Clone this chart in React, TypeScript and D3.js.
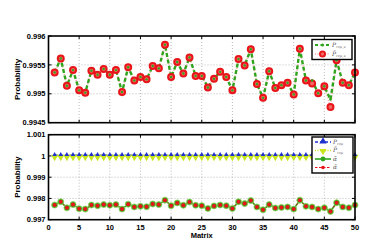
import * as d3 from "d3";

const matrices = d3.range(1, 51);

const pRepS = [
  0.99537, 0.99561, 0.99514, 0.99541, 0.99506, 0.99502, 0.9954, 0.99533, 0.99543, 0.99533,
  0.99541, 0.99503, 0.99546, 0.99523, 0.99529, 0.99525, 0.99548, 0.99544, 0.99585, 0.99529,
  0.99555, 0.99535, 0.99563, 0.99531, 0.99531, 0.99511, 0.99526, 0.99538, 0.99529, 0.99506,
  0.9956, 0.99549, 0.99577, 0.99517, 0.99493, 0.99539, 0.9951, 0.99515, 0.99519, 0.99499,
  0.99578, 0.99523, 0.99523, 0.99501, 0.99513, 0.9949, 0.99558, 0.99519, 0.99515, 0.99537,
];
const pRepSTilde = [
  0.99537, 0.99561, 0.99514, 0.99541, 0.99506, 0.99502, 0.9954, 0.99533, 0.99543, 0.99533,
  0.99541, 0.99503, 0.99546, 0.99523, 0.99529, 0.99525, 0.99548, 0.99544, 0.99585, 0.99529,
  0.99555, 0.99535, 0.99563, 0.99531, 0.99531, 0.99511, 0.99526, 0.99538, 0.99529, 0.99506,
  0.9956, 0.99549, 0.99577, 0.99517, 0.99493, 0.99539, 0.9951, 0.99515, 0.99519, 0.99499,
  0.99578, 0.99523, 0.99518, 0.99501, 0.99513, 0.99477, 0.99558, 0.99519, 0.99515, 0.99537,
];

const pRep = [
  1.00004, 1.00004, 1.00004, 1.00004, 1.00004, 1.00004, 1.00004, 1.00004, 1.00004, 1.00004,
  1.00004, 1.00004, 1.00004, 1.00004, 1.00004, 1.00004, 1.00004, 1.00004, 1.00004, 1.00004,
  1.00004, 1.00004, 1.00004, 1.00004, 1.00004, 1.00004, 1.00004, 1.00004, 1.00004, 1.00004,
  1.00004, 1.00004, 1.00004, 1.00004, 1.00004, 1.00004, 1.00004, 1.00004, 1.00004, 1.00004,
  1.00004, 1.00004, 1.00004, 1.00004, 1.00004, 1.00004, 1.00004, 1.00004, 1.00004, 1.00004,
];
const pRepTilde = [
  1, 1, 1, 1, 1, 1, 1, 1, 1, 1,
  1, 1, 1, 1, 1, 1, 1, 1, 1, 1,
  1, 1, 1, 1, 1, 1, 1, 1, 1, 1,
  1, 1, 1, 1, 1, 1, 1, 1, 1, 1,
  1, 1, 1, 1, 1, 1, 1, 1, 1, 1,
];
const alphaBar = [
  0.99769, 0.99784, 0.99756, 0.99771, 0.99752, 0.9975, 0.99769, 0.99766, 0.99771, 0.99768,
  0.99771, 0.9975, 0.99773, 0.9976, 0.99763, 0.99761, 0.99774, 0.99771, 0.99792, 0.99766,
  0.99779, 0.99768, 0.99783, 0.99768, 0.99766, 0.99753, 0.99765, 0.99769, 0.99766, 0.99753,
  0.99784, 0.99776, 0.9979, 0.9976, 0.99747, 0.99771, 0.99755, 0.99758, 0.9976, 0.9975,
  0.99792, 0.99763, 0.9976, 0.9975, 0.99756, 0.99739, 0.9978, 0.9976, 0.99756, 0.99769,
];
const alphaTilde = [
  0.99769, 0.99784, 0.99756, 0.99771, 0.99752, 0.9975, 0.99769, 0.99766, 0.99771, 0.99768,
  0.99771, 0.9975, 0.99773, 0.9976, 0.99763, 0.99761, 0.99774, 0.99771, 0.99792, 0.99766,
  0.99779, 0.99768, 0.99783, 0.99768, 0.99766, 0.99753, 0.99765, 0.99769, 0.99766, 0.99753,
  0.99784, 0.99776, 0.9979, 0.9976, 0.99747, 0.99771, 0.99755, 0.99758, 0.9976, 0.9975,
  0.99792, 0.99763, 0.9976, 0.9975, 0.99756, 0.99739, 0.9978, 0.9976, 0.99756, 0.99769,
];

const xTicks = [0, 5, 10, 15, 20, 25, 30, 35, 40, 45, 50];
const topTicks = [0.9945, 0.995, 0.9955, 0.996];
const topTickLabels = ["0.9945", "0.995", "0.9955", "0.996"];
const botTicks = [0.997, 0.998, 0.999, 1, 1.001];
const botTickLabels = ["0.997", "0.998", "0.999", "1", "1.001"];

const GREEN = "#2fa51e";
const RED = "#e8141a";
const BLUE = "#1f2fd0";
const YELLOW = "#c8e61e";
const FONT = "'Liberation Sans', Arial, sans-serif";

const x = d3.scaleLinear().domain([0, 50]).range([48.5, 355]);
const yTop = d3.scaleLinear().domain([0.9945, 0.996]).range([122.7, 36]);
const yBot = d3.scaleLinear().domain([0.997, 1.001]).range([219.7, 134.7]);

function Frame({ y, ticks, labels }: { y: d3.ScaleLinear<number, number>; ticks: number[]; labels: string[] }) {
  const [y0, y1] = y.range();
  const [x0, x1] = x.range();
  return (
    <g>
      {xTicks.slice(1, -1).map((t) => (
        <line key={"gx" + t} x1={x(t)} x2={x(t)} y1={y1} y2={y0} stroke="#aaa" strokeWidth={0.8} strokeDasharray="1,2" />
      ))}
      {ticks.slice(1, -1).map((t) => (
        <line key={"gy" + t} x1={x0} x2={x1} y1={y(t)} y2={y(t)} stroke="#aaa" strokeWidth={0.8} strokeDasharray="1,2" />
      ))}
      {xTicks.map((t) => (
        <g key={"tx" + t}>
          <line x1={x(t)} x2={x(t)} y1={y0} y2={y0 - 3} stroke="#000" strokeWidth={1} />
          <line x1={x(t)} x2={x(t)} y1={y1} y2={y1 + 3} stroke="#000" strokeWidth={1} />
        </g>
      ))}
      {ticks.map((t, i) => (
        <g key={"ty" + t}>
          <line x1={x0} x2={x0 + 3} y1={y(t)} y2={y(t)} stroke="#000" strokeWidth={1} />
          <line x1={x1} x2={x1 - 3} y1={y(t)} y2={y(t)} stroke="#000" strokeWidth={1} />
          <text x={x0 - 3} y={y(t)} dy="0.35em" textAnchor="end" fontSize={7.5} fontWeight="bold" fontFamily={FONT}>
            {labels[i]}
          </text>
        </g>
      ))}
      <text
        transform={`translate(${20},${(y0 + y1) / 2}) rotate(-90)`}
        textAnchor="middle"
        fontSize={8}
        fontWeight="bold"
        fontFamily={FONT}
      >
        Probability
      </text>
    </g>
  );
}

function Border({ y }: { y: d3.ScaleLinear<number, number> }) {
  const [y0, y1] = y.range();
  const [x0, x1] = x.range();
  return <rect x={x0} y={y1} width={x1 - x0} height={y0 - y1} fill="none" stroke="#000" strokeWidth={1.6} />;
}

// legend label: italic symbol with a small subscript
function Label({ x: lx, y: ly, base, sub }: { x: number; y: number; base: string; sub?: string }) {
  return (
    <text x={lx} y={ly} dy="0.3em" fontSize={6} fontStyle="italic" fontFamily="'DejaVu Serif', serif" fill="#555">
      {base}
      {sub && (
        <tspan fontSize={3.5} dy="1.2">
          {sub}
        </tspan>
      )}
    </text>
  );
}

const tri = d3.symbol().type(d3.symbolTriangle).size(9);

export default function App() {
  const lineTop = (vals: number[]) => d3.line<number>().x((_, i) => x(matrices[i])).y((v) => yTop(v))(vals) ?? undefined;
  const lineBot = (vals: number[]) => d3.line<number>().x((_, i) => x(matrices[i])).y((v) => yBot(v))(vals) ?? undefined;

  return (
    <svg width={374} height={245} style={{ position: "absolute", left: 0, top: 0, background: "#fff" }}>
      <rect width={374} height={245} fill="#fff" />
      {/* Top panel */}
      <Frame y={yTop} ticks={topTicks} labels={topTickLabels} />
      <path d={lineTop(pRepSTilde)} fill="none" stroke="#f6a8a8" strokeWidth={1.6} strokeDasharray="1,1.6" />
      <path d={lineTop(pRepS)} fill="none" stroke={GREEN} strokeWidth={2.4} strokeDasharray="4,2.5" />
      {pRepSTilde.map((v, i) => (
        <circle key={"rt" + i} cx={x(matrices[i])} cy={yTop(v)} r={3} fill="#ee6a60" stroke={RED} strokeWidth={2} />
      ))}
      {pRepS.map((v, i) => (
        <circle key={"gt" + i} cx={x(matrices[i])} cy={yTop(v)} r={1.2} fill={GREEN} />
      ))}
      <Border y={yTop} />
      {/* Top legend */}
      <g>
        <rect x={312} y={39.5} width={40} height={20} fill="#fff" stroke="#000" strokeWidth={1.4} />
        <line x1={315} x2={330} y1={45} y2={45} stroke={GREEN} strokeWidth={2} strokeDasharray="3,2.5" />
        <circle cx={322.5} cy={45} r={1.6} fill={GREEN} />
        <Label x={332} y={45} base="P" sub="rep_s" />
        <line x1={315} x2={330} y1={54} y2={54} stroke="#f6a8a8" strokeWidth={1.6} strokeDasharray="1,1.5" />
        <circle cx={322.5} cy={54} r={2.6} fill="#ee6a60" stroke={RED} strokeWidth={1.8} />
        <Label x={332} y={54} base={"P\u0303"} sub="rep_s" />
      </g>

      {/* Bottom panel */}
      <Frame y={yBot} ticks={botTicks} labels={botTickLabels} />
      <path d={lineBot(pRepTilde)} fill="none" stroke={YELLOW} strokeWidth={1.6} strokeDasharray="1,1.5" />
      <path d={lineBot(pRep)} fill="none" stroke={BLUE} strokeWidth={1.2} strokeDasharray="3,2" />
      {pRepTilde.map((v, i) => (
        <path key={"yb" + i} d={tri() ?? undefined} transform={`translate(${x(matrices[i])},${yBot(v) + 1}) rotate(180)`} fill={YELLOW} stroke={YELLOW} strokeWidth={1.6} />
      ))}
      {pRep.map((v, i) => (
        <path key={"bb" + i} d={tri() ?? undefined} transform={`translate(${x(matrices[i])},${yBot(v) - 0.5})`} fill={BLUE} />
      ))}
      <path d={lineBot(alphaBar)} fill="none" stroke={GREEN} strokeWidth={1.6} />
      <path d={lineBot(alphaTilde)} fill="none" stroke={RED} strokeWidth={1} strokeDasharray="2,1.5" />
      {alphaBar.map((v, i) => (
        <circle key={"ga" + i} cx={x(matrices[i])} cy={yBot(v)} r={3} fill={GREEN} stroke="#8fd05a" strokeWidth={0.8} />
      ))}
      {alphaTilde.map((v, i) => (
        <circle key={"ra" + i} cx={x(matrices[i])} cy={yBot(v)} r={2} fill={RED} />
      ))}
      <Border y={yBot} />
      {xTicks.map((t) => (
        <text key={"xl" + t} x={x(t)} y={227} dy="0.35em" textAnchor="middle" fontSize={7.5} fontWeight="bold" fontFamily={FONT}>
          {t}
        </text>
      ))}
      <text x={x(25)} y={238} textAnchor="middle" fontSize={7.5} fontWeight="bold" fontFamily={FONT}>
        Matrix
      </text>
      {/* Bottom legend */}
      <g>
        <rect x={312} y={137} width={41} height={36} fill="#fff" stroke="#000" strokeWidth={1.4} />
        <line x1={315} x2={331} y1={142} y2={142} stroke={BLUE} strokeWidth={1.4} strokeDasharray="3,2" />
        <path d={tri() ?? undefined} transform="translate(323,141.5) scale(1.6)" fill={BLUE} />
        <Label x={333} y={142} base="P" sub="rep" />
        <line x1={315} x2={331} y1={150.5} y2={150.5} stroke={YELLOW} strokeWidth={1.6} strokeDasharray="1,1.5" />
        <path d={tri() ?? undefined} transform="translate(323,151) rotate(180) scale(1.6)" fill={YELLOW} />
        <Label x={333} y={150.5} base={"P\u0303"} sub="rep" />
        <line x1={315} x2={331} y1={159} y2={159} stroke={GREEN} strokeWidth={1.6} />
        <circle cx={323} cy={159} r={2.4} fill={GREEN} />
        <Label x={333} y={159} base={"\u03b1\u0304"} />
        <line x1={315} x2={331} y1={167.5} y2={167.5} stroke={RED} strokeWidth={1.2} strokeDasharray="2.5,1.5" />
        <circle cx={323} cy={167.5} r={1.8} fill={RED} />
        <Label x={333} y={167.5} base={"\u03b1\u0303"} />
      </g>
    </svg>
  );
}
